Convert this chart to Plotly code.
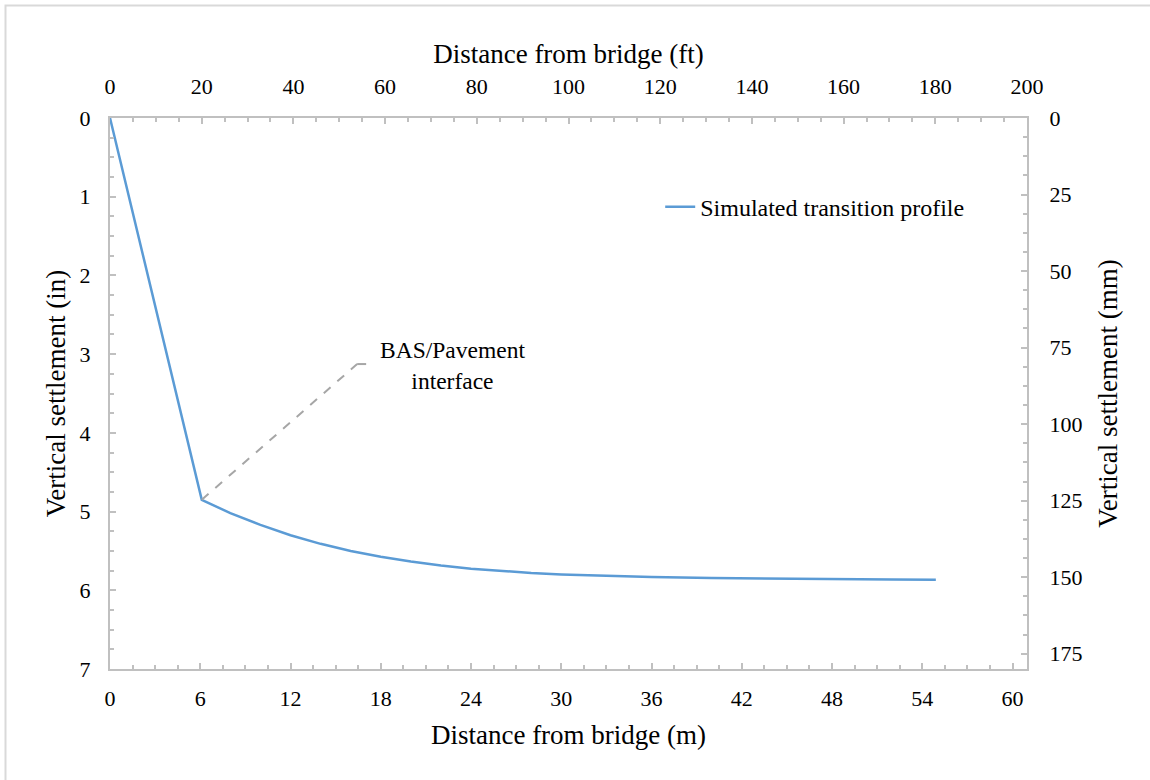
import plotly.graph_objects as go

# Data: simulated transition profile (distance in m, settlement in in)
dist_m = [0, 6.1, 8, 10, 12, 14, 16, 18, 20, 22, 24, 26, 28, 30, 33, 36, 40, 44, 48, 52, 54.9]
settle_in = [0, 4.85, 5.02, 5.17, 5.30, 5.41, 5.50, 5.575, 5.635, 5.685, 5.725, 5.757,
             5.781, 5.799, 5.818, 5.832, 5.845, 5.854, 5.860, 5.864, 5.866]

x_m_ticks = [0, 6, 12, 18, 24, 30, 36, 42, 48, 54, 60]
x_ft_ticks = [0, 20, 40, 60, 80, 100, 120, 140, 160, 180, 200]
y_in_ticks = [0, 1, 2, 3, 4, 5, 6, 7]
y_mm_ticks = [0, 25, 50, 75, 100, 125, 150, 175]

FONT = "'Times New Roman', 'Liberation Serif', Times, serif"
AXC = "#c0c0c0"
LINEC = "#5b9bd5"
TITLE_SIZE = 27

fig = go.Figure()
fig.add_trace(go.Scatter(x=dist_m, y=settle_in, mode="lines",
                         line=dict(color=LINEC, width=2.5),
                         name="Simulated transition profile"))
fig.add_trace(go.Scatter(x=[None], y=[None], xaxis="x2", yaxis="y2",
                         showlegend=False, hoverinfo="skip"))

common = dict(showline=True, linecolor=AXC, linewidth=2, showgrid=False, zeroline=False,
              ticks="inside", ticklen=6, tickwidth=1.5, tickcolor=AXC, automargin=False,
              tickfont=dict(family=FONT, size=22, color="black"))

fig.update_layout(
    width=1150, height=780,
    paper_bgcolor="white", plot_bgcolor="white",
    margin=dict(l=110, r=123, t=118, b=111),
    font=dict(family=FONT, color="black"),
    xaxis=dict(range=[0, 60.96], tickvals=x_m_ticks, ticklabelstandoff=9,
               minor=dict(dtick=1.5, ticks="inside", ticklen=4, tickcolor=AXC, tickwidth=1.5),
               title=dict(text="Distance from bridge (m)", font=dict(size=TITLE_SIZE, family=FONT), standoff=15),
               **common),
    xaxis2=dict(range=[0, 200], tickvals=x_ft_ticks, overlaying="x", side="top", anchor="y",
                ticklabelstandoff=13,
                minor=dict(dtick=5, ticks="inside", ticklen=4, tickcolor=AXC, tickwidth=1.5),
                title=dict(text="Distance from bridge (ft)", font=dict(size=TITLE_SIZE, family=FONT), standoff=3),
                **common),
    yaxis=dict(range=[7, 0], tickvals=y_in_ticks, ticklabelstandoff=13,
               minor=dict(dtick=0.25, ticks="inside", ticklen=4, tickcolor=AXC, tickwidth=1.5),
               title=dict(text="Vertical settlement (in)", font=dict(size=TITLE_SIZE, family=FONT), standoff=6),
               **common),
    yaxis2=dict(range=[180, 0], tickvals=y_mm_ticks, overlaying="y", side="right", anchor="x",
                ticklabelstandoff=16,
                minor=dict(dtick=6.25, ticks="inside", ticklen=4, tickcolor=AXC, tickwidth=1.5),
                title=dict(text="Vertical settlement (mm)", font=dict(size=TITLE_SIZE, family=FONT), standoff=17),
                **common),
    legend=dict(x=0.6, y=0.838, xanchor="left", yanchor="middle",
                bgcolor="rgba(0,0,0,0)", font=dict(family=FONT, size=24, color="black")),
    showlegend=True,
)

# Leader line for annotation
fig.add_shape(type="line", x0=6.1, y0=4.85, x1=16.43, y1=3.126, xref="x", yref="y",
              line=dict(color="#a6a6a6", width=2, dash="dash"))
fig.add_shape(type="line", x0=16.43, y0=3.126, x1=17.3, y1=3.126, xref="x", yref="y",
              line=dict(color="#a6a6a6", width=2, dash="dash"))
fig.add_annotation(x=22.75, y=3.15, xref="x", yref="y", text="BAS/Pavement<br>interface",
                   showarrow=False, font=dict(family=FONT, size=23.5, color="black"),
                   align="center")

# Outer chart border
fig.add_shape(type="rect", xref="paper", yref="paper",
              x0=(5.5 - 110) / 917, x1=(1170 - 110) / 917,
              y0=(669 - 800) / 551, y1=(669 - 5.5) / 551,
              line=dict(color="#d9d9d9", width=2), fillcolor="rgba(0,0,0,0)", layer="below")

fig.write_html("out.html", config={"displayModeBar": False},
               post_script="document.body.style.margin='0';")
